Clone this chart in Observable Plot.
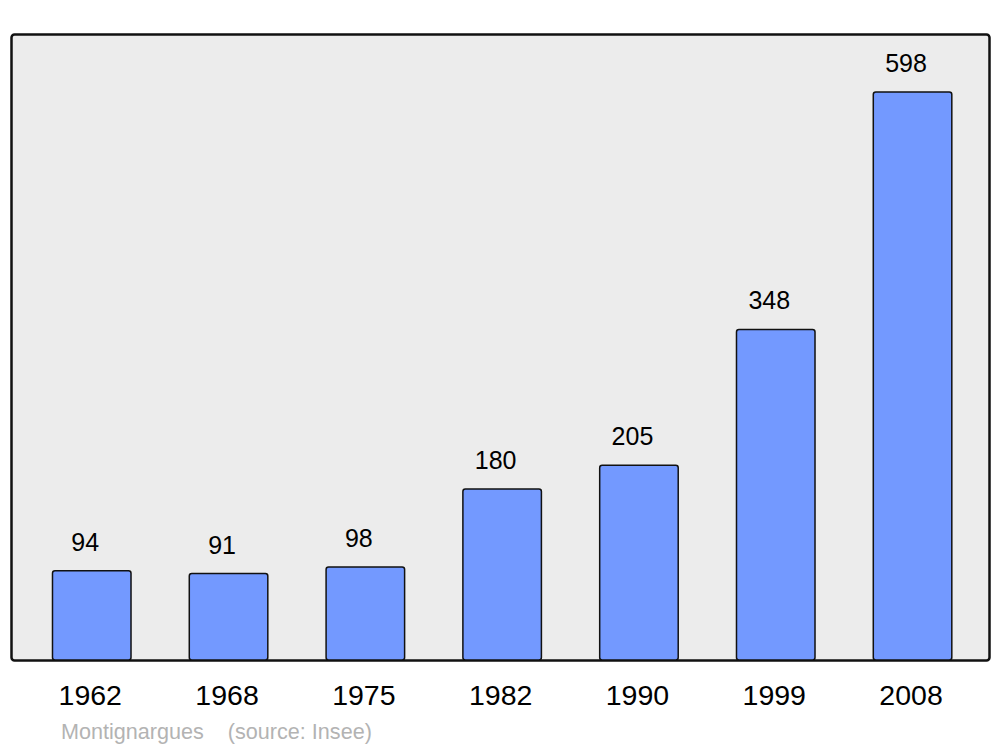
<!DOCTYPE html>
<html>
<head>
<meta charset="utf-8">
<script src="https://cdn.jsdelivr.net/npm/d3@7"></script>
<script src="https://cdn.jsdelivr.net/npm/@observablehq/plot@0.6"></script>
<style>
  body { margin: 0; background: #ffffff; font-family: "Liberation Sans", Arial, sans-serif; }
  #wrap { position: relative; width: 1000px; height: 747px; }
  #caption { position: absolute; left: 61px; top: 718.5px; font-size: 21.6px; line-height: normal; color: #b3b3b3; white-space: pre; }
</style>
</head>
<body>
<div id="wrap"><div id="caption"></div></div>
<script>
const years = ["1962", "1968", "1975", "1982", "1990", "1999", "2008"];
const population = [94, 91, 98, 180, 205, 348, 598];
const captionText = "Montignargues    (source: Insee)";

const data = years.map((y, i) => ({year: y, value: population[i]}));

const chart = Plot.plot({
  width: 1000,
  height: 747,
  marginTop: 34,
  marginBottom: 87,
  marginLeft: 11,
  marginRight: 11,
  style: {fontFamily: "Liberation Sans, Arial, sans-serif", background: "white"},
  x: {domain: years, range: [23.35, 980.95], paddingInner: 0.426, paddingOuter: 0.213, round: false, label: null},
  y: {domain: [0, 659.1], axis: null},
  marks: [
    Plot.frame({fill: "#ececec", stroke: "#111", strokeWidth: 2.5, rx: 3}),
    Plot.barY(data, {x: "year", y: "value", fill: "#7399ff", stroke: "#111", strokeWidth: 1.5, rx: 2.5}),
    Plot.text(data, {x: "year", y: "value", text: d => String(d.value), dy: -28.5, dx: -7, fontSize: 25, fill: "#000", lineAnchor: "middle"}),
    Plot.axisX({tickSize: 0, tickPadding: 24.5, fontSize: 28.5, dx: -2, color: "#000", label: null})
  ]
});
document.getElementById("wrap").prepend(chart);
document.getElementById("caption").textContent = captionText;
</script>
</body>
</html>
